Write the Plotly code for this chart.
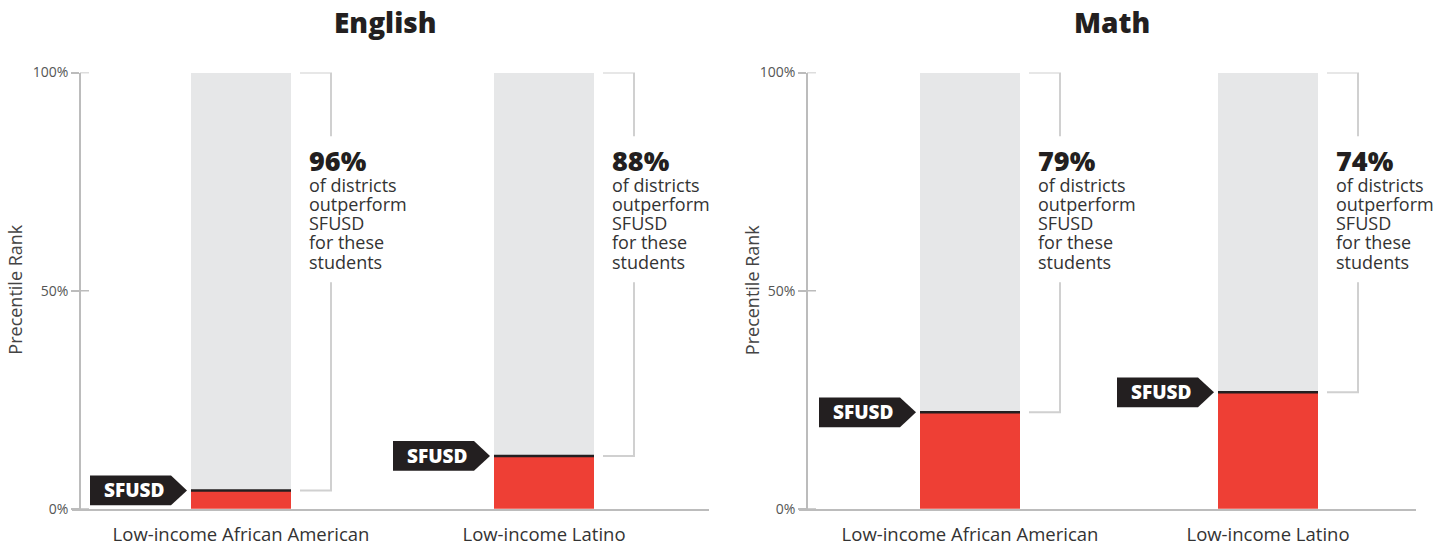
import plotly.graph_objects as go

# ---------------- data ----------------
subjects = ["English", "Math"]
groups = ["Low-income African American", "Low-income Latino"]
english_rank = [4.2, 12.1]        # SFUSD percentile rank
math_rank = [22.1, 26.7]
english_outperform = ["96%", "88%"]
math_outperform = ["79%", "74%"]
callout_lines = ["of districts", "outperform", "SFUSD", "for these", "students"]
marker_label = "SFUSD"
y_ticks = [0, 50, 100]
y_ticklabels = ["0%", "50%", "100%"]
y_title = "Precentile Rank"

ranks = [english_rank, math_rank]
outperform = [english_outperform, math_outperform]

# ---------------- style / geometry (pixels) ----------------
W, H = 1450, 546
# observed vertical mapping of the capture: shown_y = V_SCALE * layout_y + V_OFF
V_SCALE, V_OFF = 0.966, 10.0
Y0_PX, Y100_PX = 512, 73          # target rows of 0% and 100%
PX_PER_UNIT_Y = (Y0_PX - Y100_PX) / 100.0
FONT = "Open Sans"
RED = "#ee3f35"
GRAY = "#e6e7e8"
DARK = "#231f20"
BRACKET = "#d0d0d0"
AXIS = "#bcbcbc"

panels = [
    dict(ax_left=72, ax_right=709, yline=80, c0=241, c1=544, title_x=385, ytitle_x=15.5),
    dict(ax_left=799, ax_right=1416, yline=807, c0=970, c1=1268, title_x=1112, ytitle_x=752),
]


def pyf(px):
    """paper y fraction for a target pixel row"""
    layout_px = (px - V_OFF) / V_SCALE
    return (H - layout_px) / H


def pxf(px):
    return px / W


fig = go.Figure()
shapes = []
annotations = []

for p, panel in enumerate(panels):
    xa = "x" if p == 0 else "x2"
    ya = "y" if p == 0 else "y2"
    unit = panel["c1"] - panel["c0"]
    bw = 100.0 / unit
    xs = list(range(len(groups)))
    vals = ranks[p]

    fig.add_trace(go.Bar(x=xs, y=vals, width=bw, marker=dict(color=RED, line=dict(width=0)),
                         xaxis=xa, yaxis=ya, hoverinfo="skip", showlegend=False))
    fig.add_trace(go.Bar(x=xs, y=[100 - v for v in vals], width=bw,
                         marker=dict(color=GRAY, line=dict(width=0)),
                         xaxis=xa, yaxis=ya, hoverinfo="skip", showlegend=False))

    gap_top = (Y0_PX - 137) / PX_PER_UNIT_Y
    gap_bot = (Y0_PX - 284) / PX_PER_UNIT_Y
    for i, v in enumerate(vals):
        # dark rank line
        fig.add_trace(go.Scatter(x=[i - bw / 2, i + bw / 2], y=[v, v], mode="lines",
                                 line=dict(color=DARK, width=2.5), xaxis=xa, yaxis=ya,
                                 hoverinfo="skip", showlegend=False))
        # bracket
        bx0 = i + (50 + 9) / unit
        bx1 = i + (50 + 40) / unit
        fig.add_trace(go.Scatter(x=[bx0, bx1, bx1], y=[100, 100, gap_top], mode="lines",
                                 line=dict(color=BRACKET, width=2), xaxis=xa, yaxis=ya,
                                 hoverinfo="skip", showlegend=False))
        fig.add_trace(go.Scatter(x=[bx1, bx1, bx0], y=[gap_bot, v, v], mode="lines",
                                 line=dict(color=BRACKET, width=2), xaxis=xa, yaxis=ya,
                                 hoverinfo="skip", showlegend=False))
        # callout text
        tx = i + (50 + 16) / unit
        annotations.append(dict(x=tx, xref=xa, y=pyf(172 - 10.5), yref="paper",
                                text=outperform[p][i], showarrow=False,
                                xanchor="left", yanchor="middle",
                                font=dict(family=FONT, size=27, color=DARK, weight=800)))
        for k, line in enumerate(callout_lines):
            base = 193 + 19.3 * k
            annotations.append(dict(x=tx, xref=xa, y=pyf(base - 7), yref="paper", text=line,
                                    showarrow=False, xanchor="left", yanchor="middle",
                                    font=dict(family=FONT, size=18, color="#333333")))
        # SFUSD arrow label
        hh = 15 / PX_PER_UNIT_Y
        xl = i - 151 / unit
        xb = i - 70 / unit
        xt = i - 54 / unit
        path = (f"M {xl},{v + hh} L {xb},{v + hh} L {xt},{v} L {xb},{v - hh} "
                f"L {xl},{v - hh} Z")
        shapes.append(dict(type="path", path=path, xref=xa, yref=ya,
                           fillcolor=DARK, line=dict(width=0), layer="above"))
        annotations.append(dict(x=i - 107 / unit, xref=xa, y=v, yref=ya, text=marker_label,
                                showarrow=False, xanchor="center", yanchor="middle",
                                font=dict(family=FONT, size=19, color="white", weight=800)))

    # inside part of the y ticks
    for t in y_ticks:
        shapes.append(dict(type="line", xref="paper", yref=ya,
                           x0=pxf(panel["yline"]), x1=pxf(panel["yline"] + 9), y0=t, y1=t,
                           line=dict(color=AXIS, width=1.5)))

    # subject title
    annotations.append(dict(x=pxf(panel["title_x"]), xref="paper", y=pyf(33 - 11), yref="paper",
                            text=subjects[p], showarrow=False, xanchor="center", yanchor="middle",
                            font=dict(family=FONT, size=28, color=DARK, weight=800)))
    # y title
    annotations.append(dict(x=pxf(panel["ytitle_x"]), xref="paper", y=pyf(292), yref="paper",
                            text=y_title, showarrow=False, textangle=-90,
                            xanchor="center", yanchor="middle",
                            font=dict(family=FONT, size=18, color="#444444")))

    rng = [(panel["ax_left"] - panel["c0"]) / unit, (panel["ax_right"] - panel["c0"]) / unit]
    xkey = "xaxis" if p == 0 else "xaxis2"
    ykey = "yaxis" if p == 0 else "yaxis2"
    fig.update_layout(**{
        xkey: dict(domain=[pxf(panel["ax_left"]), pxf(panel["ax_right"])], range=rng,
                   tickvals=xs, ticktext=groups, showgrid=False, zeroline=False,
                   showline=True, linecolor=AXIS, linewidth=2, ticks="",
                   ticklabelstandoff=8, anchor=ya,
                   tickfont=dict(family=FONT, size=18.5, color="#333333")),
        ykey: dict(domain=[pyf(Y0_PX), pyf(Y100_PX)], range=[0, 100], tickvals=y_ticks,
                   ticktext=y_ticklabels, showgrid=False, zeroline=False, showline=True,
                   linecolor=AXIS, linewidth=1.5, ticks="outside", ticklen=8, tickwidth=1.5,
                   tickcolor=AXIS, anchor="free", position=pxf(panel["yline"]),
                   tickfont=dict(family=FONT, size=14, color="#555555")),
    })

fig.update_layout(width=W, height=H, autosize=False, margin=dict(l=0, r=0, t=0, b=0),
                  paper_bgcolor="white", plot_bgcolor="white", barmode="stack",
                  bargap=0, shapes=shapes, annotations=annotations,
                  font=dict(family=FONT))

fig.write_html("out.html",
               config={"responsive": False, "displayModeBar": False},
               post_script="document.body.style.margin='0';")
